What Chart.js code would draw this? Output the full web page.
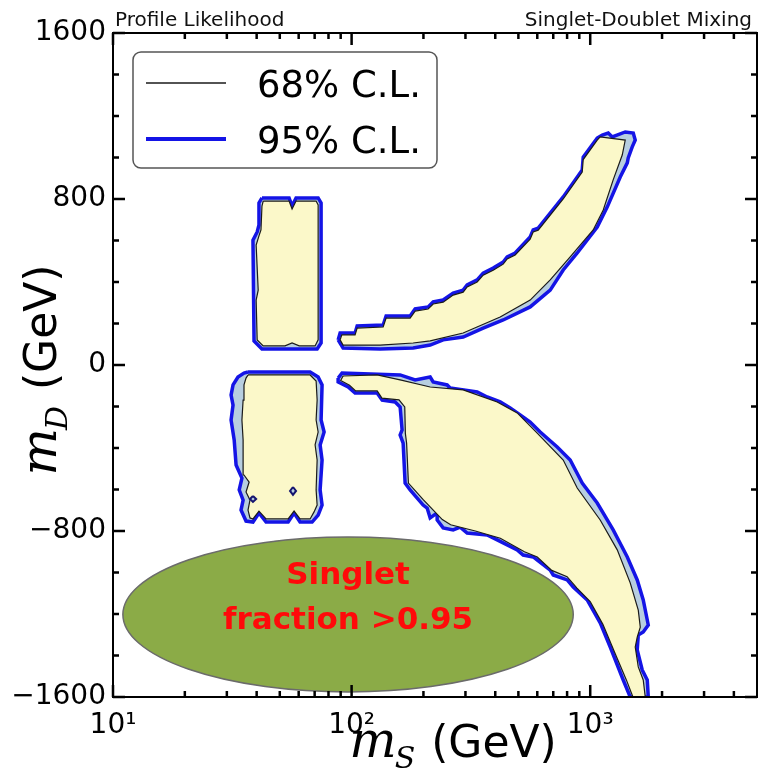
<!DOCTYPE html>
<html lang="fr">
<head>
<meta charset="utf-8">
<title>Singlet-Doublet Mixing</title>
<script src="https://cdn.jsdelivr.net/npm/chart.js@4.4.1/dist/chart.umd.min.js"></script>
<style>
  html, body { margin: 0; padding: 0; background: #fff; }
  #wrap { width: 759px; height: 772px; }
</style>
</head>
<body>
<div id="wrap"><canvas id="contourChart" width="759" height="772"></canvas></div>
<script>
// Axes
const xMajorTicks = [10, 100, 1000];
const xTickLabels = ['10\u00b9', '10\u00b2', '10\u00b3'];
const xMinorTicks = [20, 30, 40, 50, 60, 70, 80, 90, 200, 300, 400, 500, 600, 700, 800, 900, 2000, 3000, 4000];
const yMajorTicks = [-1600, -800, 0, 800, 1600];
const yMinorTicks = [-1400, -1200, -1000, -600, -400, -200, 200, 400, 600, 1000, 1200, 1400];

// Contours [mS, mD] en GeV
const upperLeft95 = [[42.1,805],[54.7,805],[56.3,766],[58.5,805],[72.4,805],[74.5,781],[74.5,106],[71.7,77],[42.1,77],[39.0,116],[38.6,602],[40.2,641],[40.9,675],[40.9,781],[42.1,805]];
const upperLeft68 = [[42.6,790],[54.7,790],[56.3,752],[58.5,790],[71.0,790],[72.4,771],[72.4,121],[70.3,92],[60.3,92],[56.3,106],[52.6,92],[42.6,92],[40.2,121],[39.8,313],[40.6,361],[39.8,578],[40.9,622],[41.7,651],[42.1,766],[42.6,790]];

const lowerLeft95 = [[36.8,-34],[67.0,-34],[72.4,-58],[75.2,-96],[74.5,-265],[76.7,-323],[73.8,-385],[75.2,-458],[73.8,-602],[75.2,-675],[72.4,-723],[68.3,-757],[60.8,-757],[57.4,-713],[54.2,-757],[43.8,-757],[40.9,-713],[38.6,-757],[36.1,-752],[34.4,-699],[35.1,-651],[33.8,-602],[34.7,-545],[32.8,-482],[32.2,-361],[31.25,-265],[31.85,-193],[31.25,-145],[31.85,-96],[33.4,-58],[35.4,-39],[36.8,-34]];
const lowerLeft68 = [[36.8,-48],[67.0,-48],[71.0,-77],[71.7,-169],[71.0,-265],[72.4,-323],[70.3,-385],[71.7,-458],[71.0,-602],[71.7,-675],[69.6,-708],[67.0,-742],[60.8,-742],[57.4,-704],[54.2,-742],[43.8,-742],[40.9,-704],[38.6,-742],[37.5,-737],[36.8,-699],[37.5,-651],[36.1,-612],[37.2,-564],[35.4,-530],[35.1,-361],[34.7,-265],[35.1,-169],[35.4,-96],[36.1,-63],[36.8,-48]];
const islandA = [[56.8,-588],[58.5,-607],[56.8,-626],[55.2,-607],[56.8,-588]];
const islandB = [[38.6,-631],[39.8,-646],[38.6,-660],[37.5,-646],[38.6,-631]];

const upperRight95 = [[87.8,121],[89.5,154],[103.4,154],[105.5,188],[135.6,193],[139.5,236],[175.9,236],[184.6,270],[209.3,280],[219.7,304],[241.9,313],[266.4,347],[293.4,361],[305,386],[335.9,410],[355.9,443],[392,467],[431.8,496],[448.8,521],[484.7,540],[560.2,617],[576.7,651],[605.3,660],[770.7,810],[925.7,940],[934.7,1002],[1070,1094],[1123,1108],[1190,1118],[1237,1099],[1402,1123],[1515,1118],[1544,1084],[1500,1051],[1443,998],[1430,974],[1336,906],[1178,761],[1070,665],[882.1,540],[770.7,458],[679.7,361],[560.2,280],[431.8,217],[355.9,178],[293.4,135],[241.9,121],[213.4,96],[181.1,82],[131.7,77],[92.1,82],[87.8,121]];
const upperRight68 = [[89.5,121],[91,145],[103.4,145],[105.5,178],[135.6,183],[139.5,226],[175.9,226],[184.6,260],[209.3,270],[219.7,294],[241.9,303],[266.4,337],[293.4,351],[305,376],[335.9,400],[355.9,433],[392,457],[431.8,486],[448.8,511],[484.7,530],[560.2,607],[576.7,641],[605.3,650],[770.7,800],[925.7,930],[934.7,990],[1070,1084],[1101,1099],[1402,1084],[1362,1012],[1248,892],[1134,747],[1029,651],[824.3,521],[679.7,410],[560.2,313],[419.4,231],[293.4,154],[213.4,116],[181.1,106],[131.7,96],[92.1,96],[89.5,121]];

const lowerRight95 = [[87.8,-63],[91.2,-39],[159.7,-48],[184.6,-72],[213.4,-58],[219.7,-82],[251.4,-96],[258.8,-111],[335.9,-130],[370,-154],[419.4,-178],[461.9,-207],[508.7,-241],[560.2,-275],[617.1,-323],[727.3,-395],[824.3,-458],[925.7,-569],[1070,-665],[1248,-795],[1430,-925],[1574,-1036],[1668,-1132],[1751,-1253],[1668,-1287],[1590,-1301],[1574,-1373],[1652,-1470],[1734,-1518],[1751,-1600],[1471,-1600],[1375,-1518],[1213,-1359],[1101,-1243],[971.4,-1132],[848.6,-1070],[800.8,-1036],[699.7,-1012],[679.7,-988],[576.7,-925],[523.7,-916],[494.2,-891],[407.5,-843],[370,-819],[305,-810],[285.1,-781],[266.4,-795],[241.9,-785],[228.3,-747],[228.3,-713],[213.4,-737],[207.3,-689],[199.4,-675],[175.9,-602],[167.6,-569],[164.4,-376],[159.7,-337],[162.8,-313],[159.7,-202],[152.2,-178],[134.3,-169],[127.9,-135],[103.4,-135],[96.7,-106],[87.8,-82],[87.8,-63]];
const lowerRight68 = [[92.1,-53],[127.9,-48],[159.7,-72],[213.4,-106],[293.4,-120],[407.5,-178],[494.2,-231],[599.5,-328],[770.7,-458],[882.1,-593],[1101,-747],[1298,-891],[1471,-1050],[1590,-1181],[1621,-1263],[1574,-1311],[1544,-1359],[1590,-1455],[1668,-1518],[1701,-1600],[1510,-1600],[1420,-1520],[1260,-1380],[1130,-1250],[1000,-1140],[880,-1075],[800,-1020],[690,-990],[600,-925],[530,-900],[420,-835],[330,-800],[260,-770],[240,-745],[200,-650],[173,-569],[170,-376],[168,-330],[167,-202],[158,-168],[134,-160],[128,-125],[104,-125],[98,-98],[90,-75],[92.1,-53]];

// Region "Singlet fraction >0.95" (bornes en GeV)
const singletRegion = { xMin: 11.0, xMax: 849, yMin: -1576, yMax: -829 };
const singletText = ['Singlet', 'fraction >0.95'];
const legendLabels = ['68% C.L.', '95% C.L.'];
const cornerTitles = ['Profile Likelihood', 'Singlet-Doublet Mixing'];

// Styles
const FILL_95 = '#b7cee0';
const LINE_95 = '#1414e6';
const FILL_68 = '#fbf8c9';
const LINE_68 = '#1a1a1a';

const toPoints = arr => arr.map(([x, y]) => ({ x: x, y: y }));

function contour95(label, pts) {
    return { label: label, data: toPoints(pts), fill: 'shape', backgroundColor: FILL_95,
             borderColor: LINE_95, borderWidth: 3.5, pointRadius: 0, order: 2 };
}
function contour68(label, pts) {
    return { label: label, data: toPoints(pts), fill: 'shape', backgroundColor: FILL_68,
             borderColor: LINE_68, borderWidth: 1.2, pointRadius: 0, order: 1 };
}

// Cadre et graduations vers l'interieur, sur les quatre cotes
const framePlugin = {
    id: 'frame',
    afterDraw(chart) {
        const { ctx, chartArea: a, scales } = chart;
        ctx.save();
        ctx.strokeStyle = '#000';
        ctx.lineWidth = 2;
        ctx.strokeRect(a.left, a.top, a.right - a.left, a.bottom - a.top);
        ctx.lineWidth = 2.5;
        const drawX = (vals, len) => vals.forEach(v => {
            const px = scales.x.getPixelForValue(v);
            ctx.beginPath();
            ctx.moveTo(px, a.bottom); ctx.lineTo(px, a.bottom - len);
            ctx.moveTo(px, a.top); ctx.lineTo(px, a.top + len);
            ctx.stroke();
        });
        const drawY = (vals, len) => vals.forEach(v => {
            const py = scales.y.getPixelForValue(v);
            ctx.beginPath();
            ctx.moveTo(a.left, py); ctx.lineTo(a.left + len, py);
            ctx.moveTo(a.right, py); ctx.lineTo(a.right - len, py);
            ctx.stroke();
        });
        drawX(xMajorTicks, 12);
        drawX(xMinorTicks, 6);
        drawY(yMajorTicks, 12);
        drawY(yMinorTicks, 6);
        ctx.restore();
    }
};

// Ellipse verte + texte rouge
const singletPlugin = {
    id: 'singlet',
    afterDatasetsDraw(chart) {
        const { ctx, scales } = chart;
        const x0 = scales.x.getPixelForValue(singletRegion.xMin);
        const x1 = scales.x.getPixelForValue(singletRegion.xMax);
        const y0 = scales.y.getPixelForValue(singletRegion.yMax);
        const y1 = scales.y.getPixelForValue(singletRegion.yMin);
        const cx = (x0 + x1) / 2, cy = (y0 + y1) / 2;
        ctx.save();
        ctx.beginPath();
        ctx.ellipse(cx, cy, (x1 - x0) / 2, (y1 - y0) / 2, 0, 0, Math.PI * 2);
        ctx.fillStyle = '#8bab47';
        ctx.fill();
        ctx.strokeStyle = '#6b6b6b';
        ctx.lineWidth = 1.5;
        ctx.stroke();
        ctx.fillStyle = '#ff0a0a';
        ctx.font = 'bold 31px "DejaVu Sans"';
        ctx.textAlign = 'center';
        ctx.textBaseline = 'alphabetic';
        ctx.fillText(singletText[0], cx, cy - 31);
        ctx.fillText(singletText[1], cx, cy + 14);
        ctx.restore();
    }
};

// Legende, titres et noms des axes
const textPlugin = {
    id: 'texts',
    afterDraw(chart) {
        const { ctx, chartArea: a } = chart;
        ctx.save();
        // legende
        const bx = a.left + 20, by = a.top + 19, bw = 304, bh = 116;
        ctx.beginPath();
        ctx.roundRect(bx, by, bw, bh, 8);
        ctx.fillStyle = '#fff';
        ctx.fill();
        ctx.strokeStyle = '#555';
        ctx.lineWidth = 1.5;
        ctx.stroke();
        const rows = [{ y: by + 31, color: LINE_68, w: 1.5 }, { y: by + 87, color: LINE_95, w: 4 }];
        rows.forEach((r, i) => {
            ctx.beginPath();
            ctx.moveTo(bx + 13, r.y); ctx.lineTo(bx + 93, r.y);
            ctx.strokeStyle = r.color;
            ctx.lineWidth = r.w;
            ctx.stroke();
            ctx.fillStyle = '#000';
            ctx.font = '37px "DejaVu Sans"';
            ctx.textAlign = 'left';
            ctx.textBaseline = 'alphabetic';
            ctx.fillText(legendLabels[i], bx + 124, r.y + 14);
        });

        // titres de coin
        ctx.font = '20px "DejaVu Sans"';
        ctx.fillStyle = '#111';
        ctx.textAlign = 'left';
        ctx.fillText(cornerTitles[0], a.left + 2, 26);
        ctx.textAlign = 'right';
        ctx.fillText(cornerTitles[1], 752, 26);

        // m_S (GeV) et m_D (GeV)
        const axisTitle = (sub, cx, cy, rot) => {
            ctx.save();
            ctx.translate(cx, cy);
            ctx.rotate(rot);
            const fm = 'italic 50px "DejaVu Serif"';
            const fs = 'italic 30px "DejaVu Serif"';
            const fg = '44px "DejaVu Sans"';
            ctx.font = fm; const wm = ctx.measureText('m').width;
            ctx.font = fs; const ws = ctx.measureText(sub).width;
            ctx.font = fg; const wg = ctx.measureText(' (GeV)').width;
            let x = -(wm + ws + wg) / 2;
            ctx.fillStyle = '#000';
            ctx.textAlign = 'left';
            ctx.textBaseline = 'alphabetic';
            ctx.font = fm; ctx.fillText('m', x, 0); x += wm;
            ctx.font = fs; ctx.fillText(sub, x - 2, 11); x += ws;
            ctx.font = fg; ctx.fillText(' (GeV)', x, 0);
            ctx.restore();
        };
        axisTitle('S', 453, 757, 0);
        axisTitle('D', 56, 370, -Math.PI / 2);
        ctx.restore();
    }
};

const tickFont = { family: 'DejaVu Sans', size: 28 };

new Chart(document.getElementById('contourChart'), {
    type: 'line',
    data: {
        datasets: [
            contour95('95% C.L.', upperLeft95), contour68('68% C.L.', upperLeft68),
            contour95('95% C.L.', lowerLeft95), contour68('68% C.L.', lowerLeft68),
            contour95('95% C.L.', upperRight95), contour68('68% C.L.', upperRight68),
            contour95('95% C.L.', lowerRight95), contour68('68% C.L.', lowerRight68),
            Object.assign(contour95('95% C.L.', islandA), { borderWidth: 2, order: 0, borderColor: '#141470' }),
            Object.assign(contour95('95% C.L.', islandB), { borderWidth: 2, order: 0, borderColor: '#141470' })
        ]
    },
    options: {
        responsive: false,
        animation: false,
        layout: { padding: { top: 33, right: 2, left: 0, bottom: 0 } },
        plugins: { legend: { display: false }, tooltip: { enabled: false } },
        elements: { line: { tension: 0 }, point: { radius: 0 } },
        scales: {
            x: {
                type: 'logarithmic',
                min: 10,
                max: 5000,
                grid: { display: false, drawTicks: false },
                border: { display: false },
                afterBuildTicks: scale => { scale.ticks = xMajorTicks.map(v => ({ value: v })); },
                afterFit: scale => { scale.height = 75; },
                ticks: {
                    autoSkip: false,
                    maxRotation: 0,
                    padding: 12,
                    color: '#000',
                    font: tickFont,
                    callback: v => { const i = xMajorTicks.indexOf(v); return i >= 0 ? xTickLabels[i] : ''; }
                }
            },
            y: {
                type: 'linear',
                min: -1600,
                max: 1600,
                grid: { display: false, drawTicks: false },
                border: { display: false },
                afterBuildTicks: scale => { scale.ticks = yMajorTicks.map(v => ({ value: v })); },
                afterFit: scale => { scale.width = 113; },
                ticks: {
                    padding: 7,
                    color: '#000',
                    font: tickFont,
                    callback: v => v < 0 ? '\u2212' + Math.abs(v) : String(v)
                }
            }
        }
    },
    plugins: [singletPlugin, framePlugin, textPlugin]
});
</script>
</body>
</html>
